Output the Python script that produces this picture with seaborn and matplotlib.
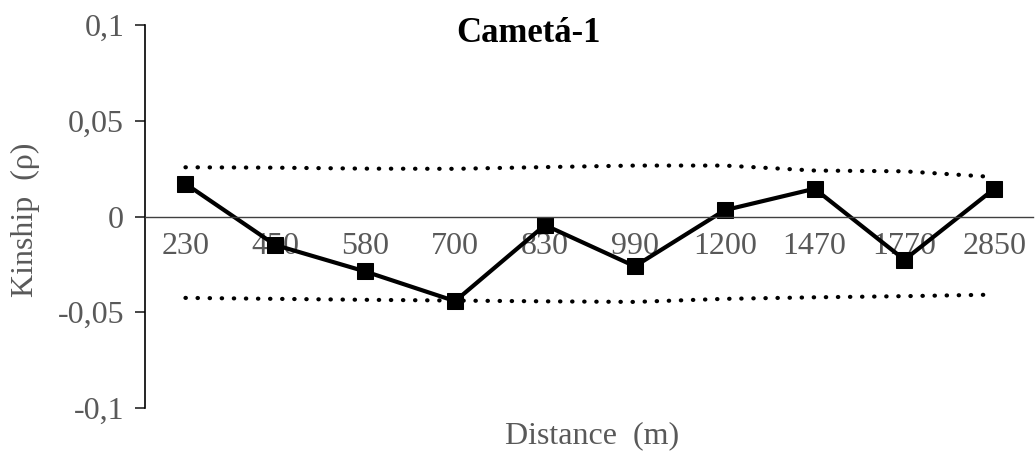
import matplotlib
matplotlib.use("Agg")
import matplotlib.pyplot as plt
import seaborn as sns
import pandas as pd
import numpy as np

# distance classes (m)
distances = ['230', '450', '580', '700', '830', '990', '1200', '1470', '1770', '2850']
# observed kinship
kinship = [0.0171, -0.0149, -0.0287, -0.0442, -0.0045, -0.0260, 0.0033, 0.0145, -0.0226, 0.0145]
# confidence envelope
upper = [0.0257, 0.0255, 0.0250, 0.0249, 0.0258, 0.0266, 0.0266, 0.0240, 0.0236, 0.0206]
lower = [-0.0425, -0.0430, -0.0435, -0.0439, -0.0443, -0.0446, -0.0430, -0.0422, -0.0416, -0.0408]

df = pd.DataFrame({'pos': np.arange(len(distances)), 'kinship': kinship,
                   'upper': upper, 'lower': lower})

sns.set_style("white")
plt.rcParams['font.family'] = ['Liberation Serif', 'DejaVu Serif']

fig = plt.figure(figsize=(10.35, 4.54), dpi=100)
ax = fig.add_axes([145/1035, 1 - 408/454, (1033-145)/1035, (408-25)/454])

dots = (0, (0.1, 2.8))
sns.lineplot(data=df, x='pos', y='upper', ax=ax, color='black', linewidth=3,
             linestyle=dots, dash_capstyle='round')
sns.lineplot(data=df, x='pos', y='lower', ax=ax, color='black', linewidth=3,
             linestyle=dots, dash_capstyle='round')
sns.lineplot(data=df, x='pos', y='kinship', ax=ax, color='black', linewidth=3,
             marker='s', markersize=12, markeredgecolor='black')

ax.set_xlim(-0.45, 9.43)
ax.set_ylim(-0.1, 0.1)
ax.set_yticks([-0.1, -0.05, 0, 0.05, 0.1])
ax.set_yticklabels(['-0,1', '-0,05', '0', '0,05', '0,1'])
ax.set_xticks(df['pos'])
ax.set_xticklabels(distances)

for s in ['top', 'right']:
    ax.spines[s].set_visible(False)
ax.spines['bottom'].set_position(('data', 0))
ax.spines['bottom'].set_color('#404040')
ax.spines['bottom'].set_linewidth(1.0)
ax.spines['left'].set_color('black')
ax.spines['left'].set_linewidth(1.2)

ax.tick_params(axis='x', length=0, pad=11, labelsize=23, labelcolor='#595959')
ax.tick_params(axis='y', length=7, width=1.2, direction='out', pad=8,
               labelsize=23, labelcolor='#595959', left=True)

ax.set_xlabel('')
ax.set_ylabel('')
fig.text(25/1035, 1 - 220/454, 'Kinship  (ρ)', rotation=90, ha='center', va='center',
         fontsize=23, color='#595959')
fig.text(592/1035, 1 - 436/454, 'Distance  (m)', ha='center', va='center',
         fontsize=23, color='#595959')
fig.text(528/1035, 1 - 33/454, 'Cametá-1', ha='center', va='center',
         fontsize=25, fontweight='bold', color='black')

fig.savefig('out.png', dpi=100)
